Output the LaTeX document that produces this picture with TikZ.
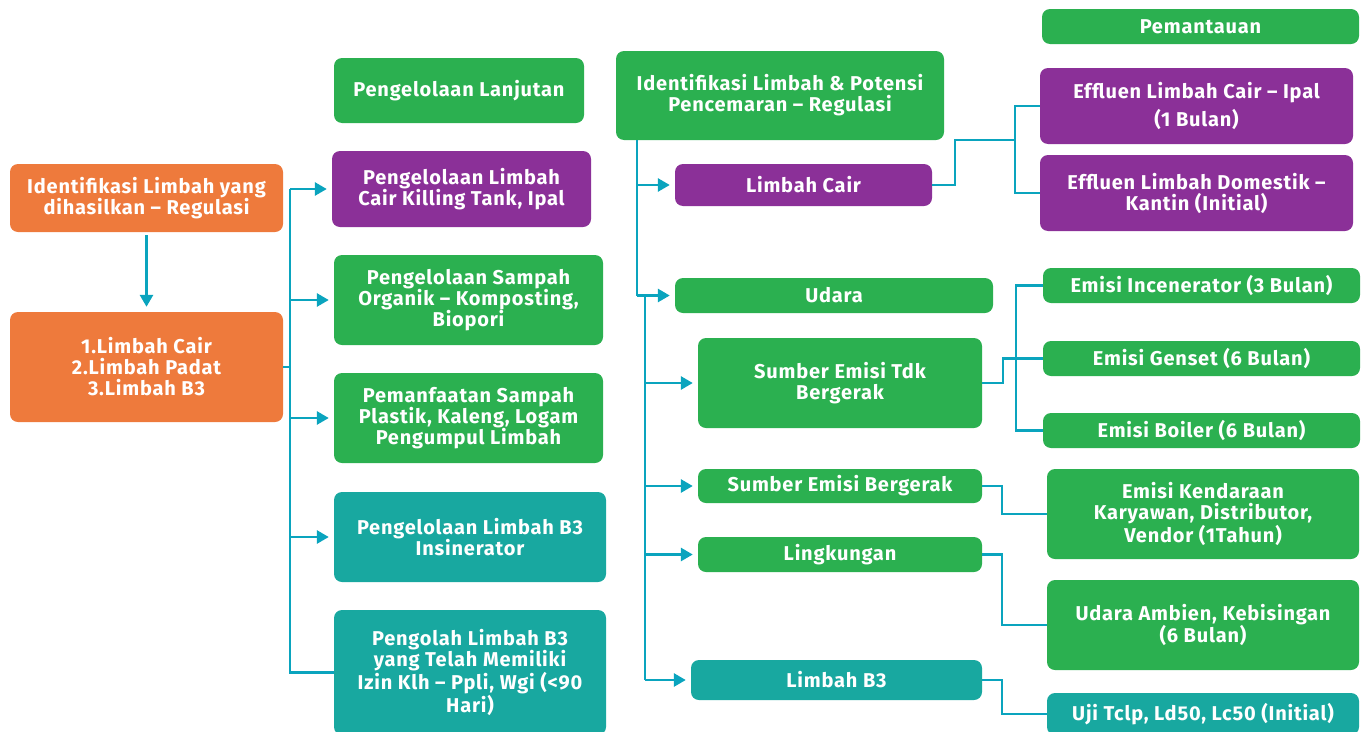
\documentclass[tikz,border=0pt]{standalone}
\usepackage{fontspec}
\setsansfont{Fira Sans}[LetterSpace=4]
\usetikzlibrary{arrows.meta, positioning, calc}
\usepackage{xcolor}
\definecolor{wasteorange}{RGB}{238, 122, 60}
\definecolor{wastegreen}{RGB}{43, 176, 80}
\definecolor{wastepurple}{RGB}{139, 48, 152}
\definecolor{wasteteal}{RGB}{24, 168, 160}
\definecolor{linkblue}{RGB}{10, 164, 190}

\begin{document}
\begin{tikzpicture}[x=1pt, y=-1pt,
  every node/.style={font=\sffamily\bfseries\fontsize{20}{21}\selectfont, text=white, rounded corners=8pt, align=center, inner sep=2pt},
  link/.style={draw=linkblue, line width=2.8pt},
  arr/.style={link, -{Triangle[length=12pt, width=13pt]}, shorten >=5pt}]
\useasboundingbox (0,0) rectangle (1367,731);

% left side
\node[fill=wasteorange, minimum width=273pt, minimum height=68pt] (src) at (146.5,198) {Identifikasi Limbah yang\\dihasilkan -- Regulasi};
\node[fill=wasteorange, minimum width=273pt, minimum height=110pt] (kinds) at (146.5,367) {1.Limbah Cair\\2.Limbah Padat\\3.Limbah B3};

% pengelolaan
\node[fill=wastegreen, minimum width=250pt, minimum height=65pt] (lanjut) at (459,90.5) {Pengelolaan Lanjutan};
\node[fill=wastepurple, minimum width=259pt, minimum height=76pt] (cairtank) at (461.5,189) {Pengelolaan Limbah\\Cair Killing Tank, Ipal};
\node[fill=wastegreen, minimum width=269pt, minimum height=90pt] (organik) at (468.5,300) {Pengelolaan Sampah\\Organik -- Komposting,\\Biopori};
\node[fill=wastegreen, minimum width=269pt, minimum height=90pt] (plastik) at (468.5,418) {Pemanfaatan Sampah\\Plastik, Kaleng, Logam\\Pengumpul Limbah};
\node[fill=wasteteal, minimum width=272pt, minimum height=90pt] (insin) at (470,537) {Pengelolaan Limbah B3\\Insinerator};
\node[fill=wasteteal, minimum width=272pt, minimum height=125pt] (ppli) at (470,672.5) {Pengolah Limbah B3\\yang Telah Memiliki\\Izin Klh -- Ppli, Wgi (<90\\Hari)};

% identifikasi & potensi
\node[fill=wastegreen, minimum width=328pt, minimum height=89pt] (ident) at (780,95.5) {Identifikasi Limbah \& Potensi\\Pencemaran -- Regulasi};
\node[fill=wastepurple, minimum width=257pt, minimum height=42pt] (lcair) at (803.5,185) {Limbah Cair};
\node[fill=wastegreen, minimum width=318pt, minimum height=35pt] (udara) at (834,295.5) {Udara};
\node[fill=wastegreen, minimum width=284pt, minimum height=90pt] (tdk) at (840,383) {Sumber Emisi Tdk\\Bergerak};
\node[fill=wastegreen, minimum width=284pt, minimum height=34pt] (gerak) at (840,486) {Sumber Emisi Bergerak};
\node[fill=wastegreen, minimum width=284pt, minimum height=35pt] (lingk) at (840,554.5) {Lingkungan};
\node[fill=wasteteal, minimum width=291pt, minimum height=40pt] (lb3) at (836.5,680) {Limbah B3};

% pemantauan
\node[fill=wastegreen, minimum width=317pt, minimum height=35pt] (pantau) at (1200.5,26.5) {Pemantauan};
\node[fill=wastepurple, minimum width=313pt, minimum height=76pt] (effcair) at (1196.5,106) {Effluen Limbah Cair -- Ipal\\[6pt](1 Bulan)};
\node[fill=wastepurple, minimum width=313pt, minimum height=76pt] (effdom) at (1196.5,193) {Effluen Limbah Domestik --\\Kantin (Initial)};
\node[fill=wastegreen, minimum width=317pt, minimum height=35pt] (incin) at (1201.5,285.5) {Emisi Incenerator (3 Bulan)};
\node[fill=wastegreen, minimum width=317pt, minimum height=35pt] (genset) at (1201.5,358.5) {Emisi Genset (6 Bulan)};
\node[fill=wastegreen, minimum width=317pt, minimum height=35pt] (boiler) at (1201.5,430.5) {Emisi Boiler (6 Bulan)};
\node[fill=wastegreen, minimum width=312pt, minimum height=90pt] (kend) at (1203,514) {Emisi Kendaraan\\Karyawan, Distributor,\\Vendor (1Tahun)};
\node[fill=wastegreen, minimum width=312pt, minimum height=90pt] (ambien) at (1203,625) {Udara Ambien, Kebisingan\\(6 Bulan)};
\node[fill=wasteteal, minimum width=312pt, minimum height=42pt] (uji) at (1203,714) {Uji Tclp, Ld50, Lc50 (Initial)};

% connectors left
\coordinate (trunkA) at (290,0);
\draw[arr, shorten <=3pt] (src) -- (kinds);
\draw[link] (kinds.east) -- (kinds.east -| trunkA);
\draw[link] (trunkA |- cairtank.west) -- (trunkA |- ppli.west) -- (ppli.west);
\foreach \n in {cairtank, organik, plastik, insin}
  \draw[arr] (trunkA |- \n.west) -- (\n.west);

% connectors middle
\coordinate (trunkB) at (637,0);
\coordinate (trunkC) at (645,0);
\draw[link] (ident.south -| trunkB) -- (trunkB |- udara.west);
\draw[arr] (trunkB |- lcair.west) -- (lcair.west);
\draw[arr] (trunkB |- udara.west) -- (udara.west);
\draw[link] (trunkC |- udara.west) -- (trunkC |- lb3.west);
\foreach \n in {tdk, gerak, lingk, lb3}
  \draw[arr] (trunkC |- \n.west) -- (\n.west);

% connectors right
\coordinate (lcbend) at (955,140);
\coordinate (bracketA) at (1015,0);
\coordinate (tdkbend) at (1003,0);
\coordinate (bracketB) at (1016,0);
\coordinate (elbow) at (1002,0);
\draw[link] (lcair.east) -| (lcbend) -- (lcbend -| bracketA);
\draw[link] (effcair.west) -- (effcair.west -| bracketA) -- (effdom.west -| bracketA) -- (effdom.west);
\draw[link] (tdk.east) -| (tdkbend |- genset.west) -- (genset.west);
\draw[link] (incin.west) -- (incin.west -| bracketB) -- (boiler.west -| bracketB) -- (boiler.west);
\draw[link] (gerak.east) -| (elbow |- kend.west) -- (kend.west);
\draw[link] (lingk.east) -| (elbow |- ambien.west) -- (ambien.west);
\draw[link] (lb3.east) -| (elbow |- uji.west) -- (uji.west);
\end{tikzpicture}
\end{document}
